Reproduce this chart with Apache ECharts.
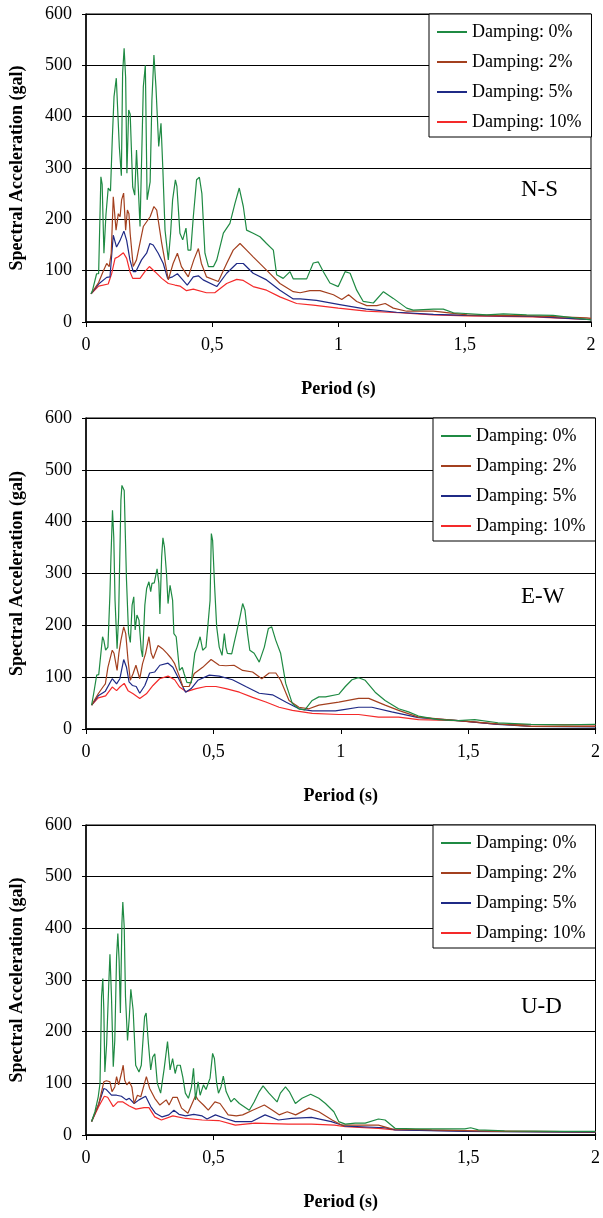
<!DOCTYPE html>
<html>
<head>
<meta charset="utf-8">
<script src="https://cdn.jsdelivr.net/npm/echarts@6/dist/echarts.min.js"></script>
<style>html,body{margin:0;padding:0;background:#fff}#c{width:603px;height:1218px}</style>
</head>
<body>
<div id="c"></div>
<script>
// ---- data: [period (s), spectral acceleration (gal)] ----
const seriesNames = ['Damping: 0%', 'Damping: 2%', 'Damping: 5%', 'Damping: 10%'];
const panelLabels = ['N-S', 'E-W', 'U-D'];
const xTicks = [0, 0.5, 1, 1.5, 2];
const yTicks = [0, 100, 200, 300, 400, 500, 600];

const NS_D0 = [[0.02,55],[0.026,62],[0.042,94],[0.05,94],[0.059,283],[0.064,268],[0.071,134],[0.079,209],[0.088,261],[0.097,255],[0.104,355],[0.111,439],[0.12,475],[0.132,341],[0.14,285],[0.145,485],[0.151,533],[0.157,476],[0.162,290],[0.169,413],[0.175,405],[0.185,263],[0.193,247],[0.2,335],[0.207,263],[0.214,186],[0.227,458],[0.235,500],[0.242,238],[0.254,273],[0.261,432],[0.269,520],[0.277,458],[0.288,342],[0.297,387],[0.304,302],[0.313,179],[0.326,121],[0.335,172],[0.343,238],[0.354,277],[0.36,264],[0.372,173],[0.383,160],[0.396,183],[0.404,140],[0.415,140],[0.425,205],[0.438,277],[0.449,282],[0.459,250],[0.471,134],[0.485,108],[0.505,108],[0.518,121],[0.544,173],[0.57,192],[0.59,231],[0.607,261],[0.623,225],[0.636,179],[0.662,173],[0.689,166],[0.715,153],[0.742,140],[0.755,92],[0.781,85],[0.808,98],[0.821,84],[0.874,84],[0.9,115],[0.92,117],[0.94,98],[0.966,76],[0.999,69],[1.026,98],[1.046,95],[1.072,62],[1.098,40],[1.138,37],[1.178,59],[1.217,46],[1.27,27],[1.296,23],[1.376,25],[1.415,25],[1.455,18],[1.587,14],[1.653,16],[1.745,14],[1.85,13],[1.983,5],[2,4]];
const NS_D2 = [[0.02,55],[0.05,77],[0.069,100],[0.082,114],[0.092,108],[0.1,134],[0.108,244],[0.119,179],[0.128,211],[0.135,205],[0.141,238],[0.149,251],[0.157,179],[0.164,218],[0.17,211],[0.175,172],[0.187,108],[0.2,121],[0.227,186],[0.254,205],[0.269,225],[0.28,218],[0.3,153],[0.326,82],[0.345,114],[0.362,134],[0.378,108],[0.405,88],[0.427,121],[0.445,143],[0.457,114],[0.477,88],[0.524,79],[0.557,114],[0.583,140],[0.61,153],[0.636,140],[0.662,127],[0.715,101],[0.768,75],[0.821,59],[0.848,57],[0.887,61],[0.927,61],[0.98,53],[1.013,44],[1.04,53],[1.072,40],[1.112,32],[1.152,32],[1.185,36],[1.217,27],[1.27,21],[1.376,21],[1.508,14],[1.64,13],[1.77,12],[1.983,8],[2,7]];
const NS_D5 = [[0.02,55],[0.05,74],[0.082,87],[0.095,88],[0.108,169],[0.121,146],[0.135,159],[0.15,177],[0.161,159],[0.174,121],[0.187,98],[0.197,98],[0.22,121],[0.24,134],[0.253,153],[0.266,150],[0.286,134],[0.306,114],[0.323,85],[0.343,88],[0.362,94],[0.378,85],[0.401,72],[0.425,88],[0.445,90],[0.464,82],[0.518,69],[0.557,95],[0.597,114],[0.623,114],[0.662,95],[0.715,82],[0.768,62],[0.821,45],[0.848,45],[0.913,42],[1.005,34],[1.11,25],[1.23,19],[1.376,15],[1.51,13],[1.77,11],[1.983,5],[2,5]];
const NS_D10 = [[0.02,55],[0.05,70],[0.088,74],[0.102,95],[0.115,124],[0.128,127],[0.148,135],[0.161,124],[0.174,98],[0.185,85],[0.214,85],[0.233,98],[0.251,108],[0.273,98],[0.3,85],[0.326,75],[0.352,72],[0.372,70],[0.398,61],[0.425,64],[0.477,57],[0.51,57],[0.557,75],[0.597,83],[0.623,81],[0.662,69],[0.715,62],[0.768,49],[0.834,36],[0.9,33],[0.999,27],[1.11,21],[1.24,18],[1.376,14],[1.51,12],[1.77,10],[1.983,5],[2,5]];

const EW_D0 = [[0.022,46],[0.03,68],[0.042,104],[0.05,105],[0.065,178],[0.07,171],[0.077,152],[0.086,158],[0.094,261],[0.098,332],[0.104,422],[0.109,370],[0.114,248],[0.122,155],[0.128,216],[0.137,441],[0.141,470],[0.15,460],[0.159,287],[0.167,185],[0.174,167],[0.181,239],[0.1875,255],[0.193,191],[0.2,220],[0.208,210],[0.217,152],[0.222,139],[0.231,239],[0.238,271],[0.247,284],[0.254,265],[0.259,281],[0.268,282],[0.279,309],[0.286,281],[0.29,222],[0.297,332],[0.302,369],[0.308,351],[0.316,300],[0.322,242],[0.33,277],[0.34,248],[0.345,184],[0.354,178],[0.367,113],[0.378,119],[0.385,107],[0.396,90],[0.413,89],[0.427,146],[0.436,158],[0.448,178],[0.458,152],[0.471,158],[0.478,197],[0.487,248],[0.492,377],[0.497,364],[0.505,274],[0.513,197],[0.523,158],[0.534,142],[0.543,184],[0.549,158],[0.555,146],[0.572,145],[0.581,165],[0.602,210],[0.615,242],[0.624,229],[0.634,184],[0.643,152],[0.66,146],[0.68,129],[0.7,158],[0.716,194],[0.729,197],[0.745,171],[0.764,146],[0.784,88],[0.81,49],[0.836,39],[0.859,37],[0.888,55],[0.914,62],[0.94,62],[0.992,67],[1.018,82],[1.044,95],[1.07,99],[1.096,94],[1.135,71],[1.174,55],[1.227,39],[1.266,33],[1.305,25],[1.383,18],[1.461,16],[1.526,18],[1.617,12],[1.747,9],[1.878,8],[2,9]];
const EW_D2 = [[0.022,46],[0.048,68],[0.068,82],[0.076,87],[0.086,119],[0.103,152],[0.11,146],[0.122,113],[0.129,146],[0.137,171],[0.148,197],[0.156,184],[0.165,133],[0.174,94],[0.185,107],[0.196,123],[0.211,97],[0.222,126],[0.234,146],[0.247,178],[0.256,146],[0.264,136],[0.283,161],[0.3,155],[0.318,146],[0.335,136],[0.348,126],[0.367,101],[0.38,82],[0.405,82],[0.425,107],[0.458,119],[0.491,134],[0.523,123],[0.549,122],[0.581,123],[0.615,113],[0.654,110],[0.69,97],[0.719,108],[0.745,108],[0.764,94],[0.797,55],[0.836,42],[0.875,39],[0.914,46],[0.992,52],[1.07,59],[1.11,59],[1.174,46],[1.227,36],[1.305,23],[1.461,16],[1.617,10],[1.747,5],[2,5]];
const EW_D5 = [[0.022,46],[0.048,64],[0.076,73],[0.103,97],[0.12,87],[0.133,97],[0.148,134],[0.159,119],[0.169,91],[0.182,84],[0.197,82],[0.211,69],[0.231,84],[0.25,108],[0.27,110],[0.29,123],[0.322,127],[0.341,119],[0.367,94],[0.391,71],[0.413,78],[0.439,94],[0.484,104],[0.523,102],[0.575,95],[0.627,82],[0.68,69],[0.732,66],[0.784,52],[0.836,39],[0.888,35],[0.979,35],[1.005,37],[1.07,42],[1.122,42],[1.2,33],[1.305,22],[1.461,16],[1.617,9],[1.747,5],[2,4]];
const EW_D10 = [[0.022,46],[0.048,60],[0.077,64],[0.103,81],[0.12,74],[0.133,81],[0.15,88],[0.165,74],[0.185,68],[0.211,59],[0.237,68],[0.263,84],[0.289,97],[0.322,102],[0.348,95],[0.367,81],[0.394,72],[0.432,78],[0.471,82],[0.51,82],[0.549,78],[0.602,71],[0.654,61],[0.706,52],[0.758,42],[0.81,36],[0.888,30],[0.992,28],[1.07,28],[1.148,23],[1.227,23],[1.305,18],[1.461,16],[1.617,9],[2,8]];

const UD_D0 = [[0.022,26],[0.035,45],[0.048,74],[0.055,100],[0.061,268],[0.066,303],[0.07,242],[0.074,122],[0.081,176],[0.089,287],[0.094,350],[0.1,268],[0.107,132],[0.113,183],[0.12,345],[0.125,390],[0.13,338],[0.135,236],[0.141,410],[0.1445,451],[0.15,403],[0.155,268],[0.163,183],[0.17,228],[0.176,282],[0.185,242],[0.195,135],[0.208,122],[0.217,135],[0.23,229],[0.236,236],[0.245,177],[0.254,126],[0.262,151],[0.27,157],[0.28,100],[0.293,81],[0.307,129],[0.32,181],[0.33,126],[0.34,148],[0.35,119],[0.358,135],[0.37,135],[0.38,112],[0.39,81],[0.402,71],[0.414,93],[0.422,129],[0.43,68],[0.44,103],[0.448,77],[0.461,97],[0.471,88],[0.487,110],[0.497,158],[0.504,148],[0.513,100],[0.52,81],[0.53,93],[0.539,114],[0.55,84],[0.569,64],[0.582,71],[0.602,61],[0.641,48],[0.66,64],[0.68,84],[0.695,95],[0.718,81],[0.75,64],[0.763,81],[0.783,93],[0.798,84],[0.822,61],[0.848,71],[0.882,79],[0.914,71],[0.94,61],[0.973,45],[0.992,26],[1.018,21],[1.057,23],[1.096,23],[1.148,31],[1.174,29],[1.213,13],[1.292,12],[1.487,12],[1.51,14],[1.54,10],[1.643,8],[1.878,7],[2,7]];
const UD_D2 = [[0.022,26],[0.05,60],[0.07,103],[0.08,105],[0.094,103],[0.102,84],[0.113,93],[0.12,113],[0.128,97],[0.139,119],[0.146,135],[0.152,106],[0.16,97],[0.17,103],[0.18,93],[0.189,61],[0.202,77],[0.215,74],[0.237,113],[0.25,90],[0.27,71],[0.29,58],[0.315,68],[0.326,58],[0.341,73],[0.358,73],[0.375,52],[0.4,42],[0.43,76],[0.44,68],[0.461,58],[0.48,48],[0.506,64],[0.526,61],[0.558,39],[0.59,37],[0.615,39],[0.654,48],[0.7,58],[0.732,48],[0.758,39],[0.79,45],[0.823,39],[0.875,52],[0.914,45],[0.966,29],[1.005,19],[1.148,19],[1.2,12],[1.357,10],[1.617,7],[2,6]];
const UD_D5 = [[0.022,26],[0.05,60],[0.07,90],[0.08,88],[0.1,77],[0.12,77],[0.139,75],[0.158,68],[0.17,71],[0.189,61],[0.208,68],[0.234,75],[0.254,55],[0.273,42],[0.299,35],[0.325,39],[0.345,48],[0.365,40],[0.391,37],[0.423,40],[0.456,37],[0.475,31],[0.508,39],[0.547,32],[0.586,26],[0.651,26],[0.703,39],[0.755,29],[0.807,32],[0.885,34],[0.963,26],[1.018,17],[1.174,14],[1.213,10],[1.487,7],[2,5]];
const UD_D10 = [[0.022,26],[0.05,55],[0.072,75],[0.085,73],[0.107,55],[0.125,64],[0.145,64],[0.17,56],[0.196,50],[0.228,53],[0.247,53],[0.27,35],[0.296,29],[0.341,37],[0.391,32],[0.456,29],[0.521,28],[0.586,19],[0.664,23],[0.729,22],[0.794,21],[0.885,21],[0.976,19],[1.018,16],[1.148,13],[1.213,10],[1.487,8],[2,6]];

const panelData = [
  [NS_D0, NS_D2, NS_D5, NS_D10],
  [EW_D0, EW_D2, EW_D5, EW_D10],
  [UD_D0, UD_D2, UD_D5, UD_D10]
];

// ---- styles / layout ----
const colors = ['#1f8a43', '#a3401f', '#1f2a86', '#f42a2a'];
const FONT = '"Liberation Serif", "Times New Roman", serif';
const grids = [
  {left: 86, top: 14, width: 505, height: 308},
  {left: 86, top: 418, width: 512, height: 311},
  {left: 86, top: 825, width: 512, height: 310}
];
const legendPos = [{left: 429, top: 14}, {left: 433, top: 418}, {left: 433, top: 825}];
const labelPos = [{left: 521, top: 178}, {left: 521, top: 585}, {left: 521, top: 995}];

const chart = echarts.init(document.getElementById('c'), null, {renderer: 'canvas'});

const option = {
  animation: false,
  backgroundColor: '#fff',
  color: colors,
  grid: grids.map(g => Object.assign({show: true, borderColor: '#000', borderWidth: 1, backgroundColor: 'transparent'}, g)),
  title: panelLabels.map((t, i) => ({
    text: t, left: labelPos[i].left, top: labelPos[i].top, padding: 0,
    textStyle: {fontFamily: FONT, fontSize: 23, fontWeight: 'normal', color: '#000'}
  })),
  legend: panelLabels.map((t, i) => ({
    data: seriesNames,
    orient: 'vertical',
    left: legendPos[i].left, top: legendPos[i].top,
    backgroundColor: '#fff', borderColor: '#000', borderWidth: 1, borderRadius: 0,
    padding: [8, 10, 5, 8],
    itemWidth: 30, itemHeight: 2, itemGap: 10,
    icon: 'rect',
    selectedMode: false,
    textStyle: {fontFamily: FONT, fontSize: 18, color: '#000', lineHeight: 20, padding: [0, 0, 0, 0]}
  })),
  xAxis: grids.map((g, i) => ({
    type: 'value', gridIndex: i, min: xTicks[0], max: xTicks[xTicks.length - 1], interval: 0.5,
    name: 'Period (s)', nameLocation: 'middle', nameGap: 58,
    nameTextStyle: {fontFamily: FONT, fontSize: 18, fontWeight: 'bold', color: '#000'},
    axisLine: {onZero: false, lineStyle: {color: '#000', width: 1.5}},
    axisTick: {show: true, length: 5, lineStyle: {color: '#000'}},
    axisLabel: {fontFamily: FONT, fontSize: 18, color: '#000', margin: 14,
      formatter: v => String(v).replace('.', ',')},
    splitLine: {show: false}
  })),
  yAxis: grids.map((g, i) => ({
    type: 'value', gridIndex: i, min: yTicks[0], max: yTicks[yTicks.length - 1], interval: 100,
    name: 'Spectral Acceleration (gal)', nameLocation: 'middle', nameGap: 60,
    nameTextStyle: {fontFamily: FONT, fontSize: 18, fontWeight: 'bold', color: '#000'},
    axisLine: {lineStyle: {color: '#000', width: 1.5}},
    axisTick: {show: true, length: 4, lineStyle: {color: '#000'}},
    axisLabel: {fontFamily: FONT, fontSize: 18, color: '#000', margin: 14},
    splitLine: {show: true, lineStyle: {color: '#000', width: 1}}
  })),
  series: []
};

panelData.forEach((arrs, i) => {
  arrs.forEach((d, k) => {
    option.series.push({
      name: seriesNames[k], type: 'line', xAxisIndex: i, yAxisIndex: i,
      data: d, showSymbol: false, symbol: 'none', smooth: false,
      lineStyle: {color: colors[k], width: 1.2},
      itemStyle: {color: colors[k]},
      z: 10 - k
    });
  });
});

chart.setOption(option);
</script>
</body>
</html>
